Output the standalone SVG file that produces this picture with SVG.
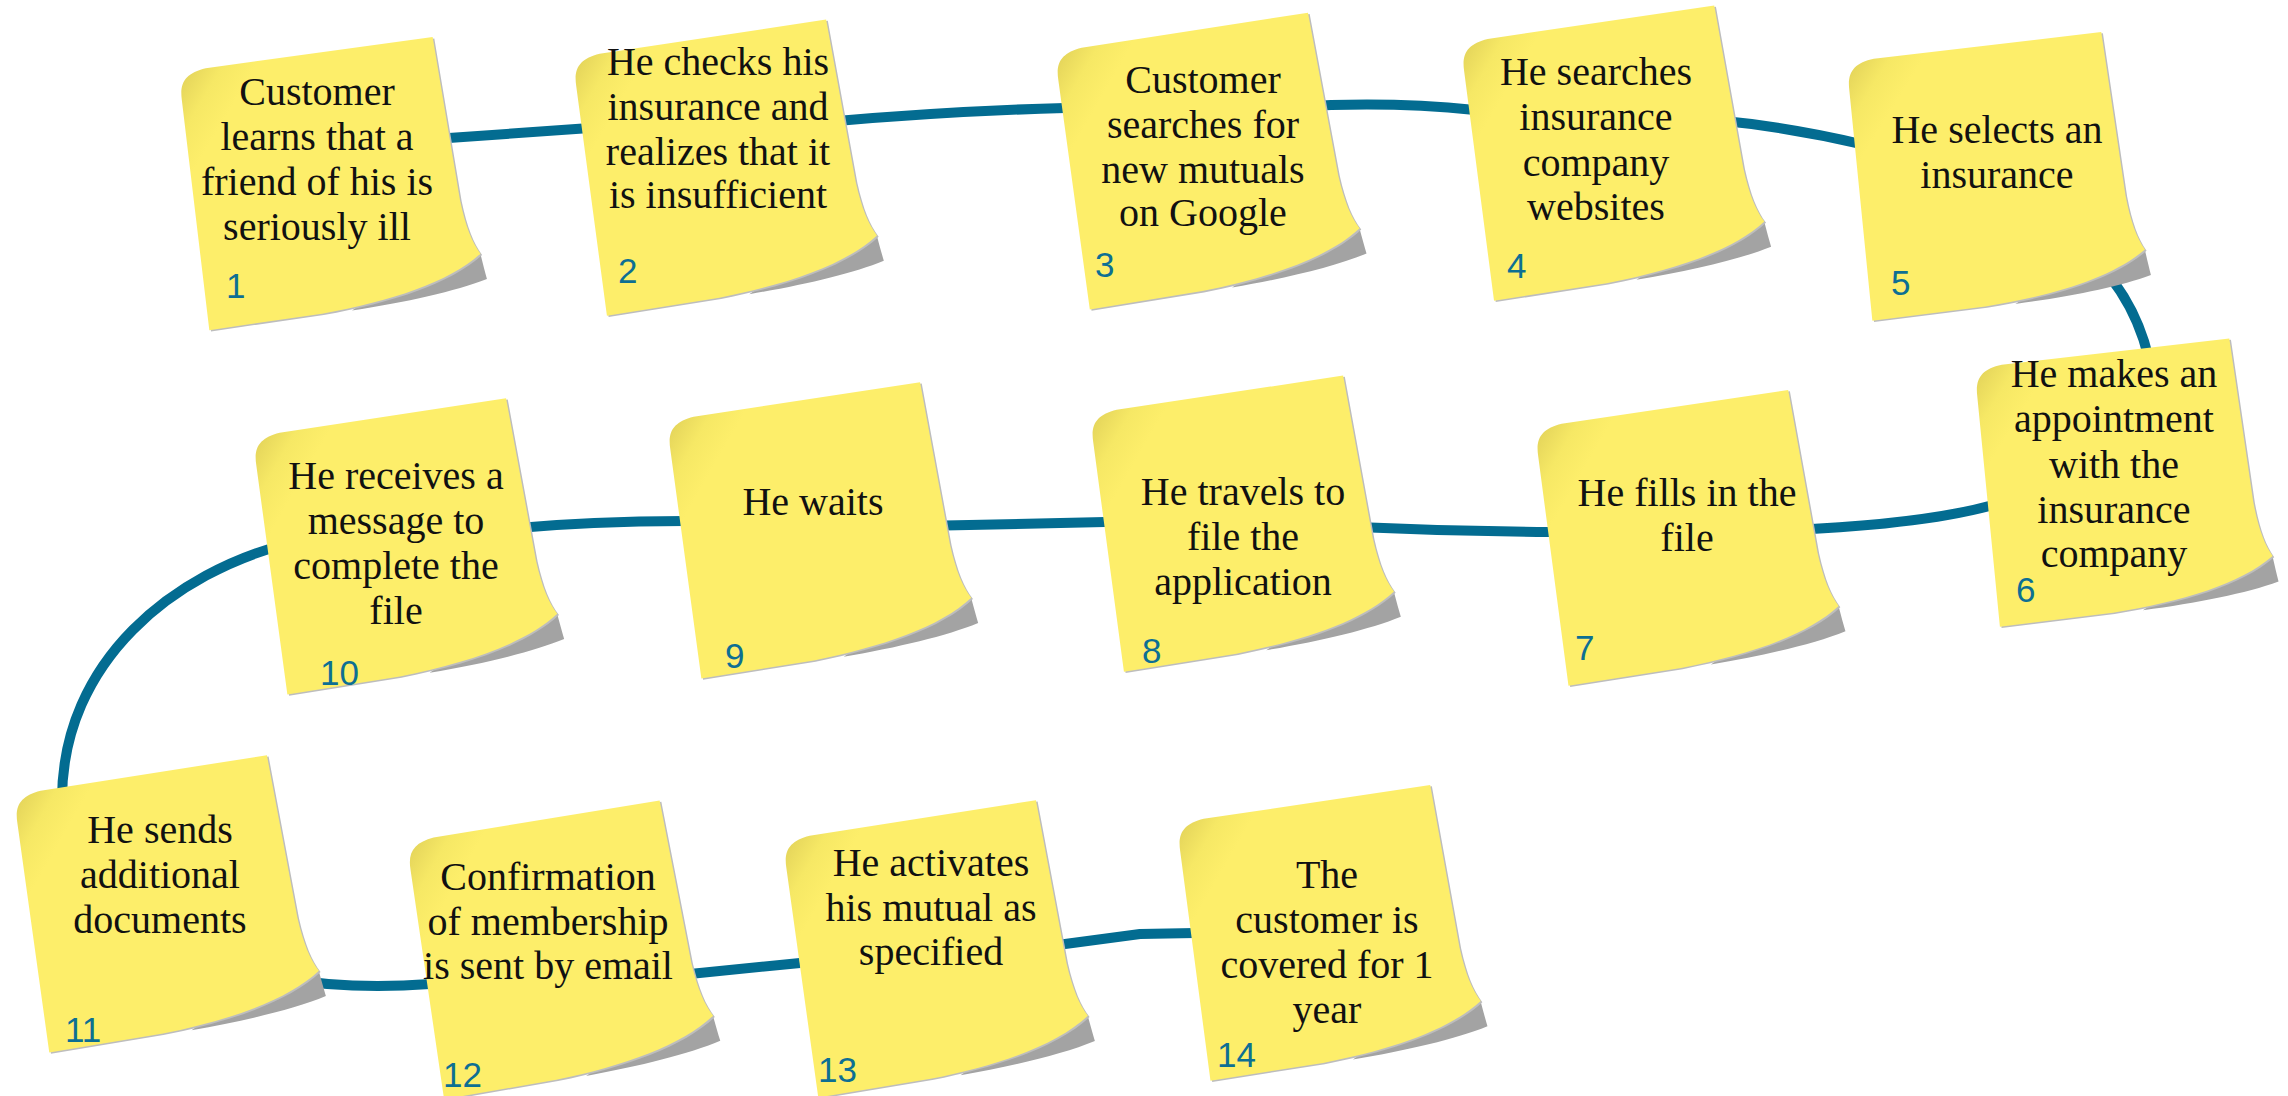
<svg xmlns="http://www.w3.org/2000/svg" xmlns:xlink="http://www.w3.org/1999/xlink" width="2288" height="1096" viewBox="0 0 2288 1096">
  <style>
    .sheet { fill: url(#paper); }
    .edge { fill: #bdbdbd; }
    .curl { fill: #a3a3a3; }
    .txt { font-family: "Liberation Serif", "Times New Roman", serif; font-size: 40px; fill: #111; text-anchor: middle; }
    .num { font-family: "Liberation Sans", Arial, sans-serif; font-size: 35px; fill: #0d6f93; }
    .link { fill: none; stroke: #036c91; stroke-width: 10; stroke-linejoin: round; }
  </style>
  <defs>
    <linearGradient id="paper" gradientUnits="userSpaceOnUse" x1="0" y1="0" x2="50" y2="40">
      <stop offset="0" stop-color="#e0d058"/>
      <stop offset="0.55" stop-color="#f6e865"/>
      <stop offset="1" stop-color="#fdee6a"/>
    </linearGradient>
    <!-- sticky note drawn in its own frame: top-left corner at 0,0 -->
    <g id="note-shape">
      <path class="curl" d="M 262,200 L 275,222 C 276,231 277,240 278,247 C 245,255 195,259 140,260 Z"/>
      <path class="edge" transform="translate(1.5,1.5)" d="M 0,28 C 0,10 8,2 28,0 L 257,0 L 262,165 C 264,192 268,208 275,221 C 240,245 180,256 110,259 L -4,260 Z"/>
      <path class="sheet" d="M 0,28 C 0,10 8,2 28,0 L 257,0 L 262,165 C 264,192 268,208 275,221 C 240,245 180,256 110,259 L -4,260 Z"/>
    </g>
  </defs>

  <rect width="2288" height="1096" fill="#ffffff"/>

  <g id="connectors">
    <path class="link" d="M 420,140 L 590,128"/>
    <path class="link" d="M 825,122 Q 950,111 1065,108"/>
    <path class="link" d="M 1295,107 Q 1385,101 1475,110"/>
    <path class="link" d="M 1715,120 Q 1790,127 1865,145"/>
    <path class="link" d="M 2085,250 Q 2140,300 2152,375"/>
    <path class="link" d="M 2000,503 Q 1930,524 1790,530"/>
    <path class="link" d="M 1330,526 Q 1440,531 1550,532"/>
    <path class="link" d="M 920,526 L 1105,522"/>
    <path class="link" d="M 505,529 Q 590,521 685,521"/>
    <path class="link" d="M 290,543 C 175,572 62,660 62,800"/>
    <path class="link" d="M 280,978 Q 350,990 430,984"/>
    <path class="link" d="M 670,976 L 800,963"/>
    <path class="link" d="M 1035,948 L 1140,934 L 1195,933"/>
  </g>

  <g id="note-1">
    <use xlink:href="#note-shape" href="#note-shape" transform="translate(178,72) rotate(-7.8)"/>
    <text class="txt"><tspan x="317" y="105">Customer</tspan><tspan x="317" y="150">learns that a</tspan><tspan x="317" y="195">friend of his is</tspan><tspan x="317" y="240">seriously ill</tspan></text>
    <text class="num" x="226" y="298">1</text>
  </g>

  <g id="note-2">
    <use xlink:href="#note-shape" href="#note-shape" transform="translate(572,58) rotate(-8.6)"/>
    <text class="txt"><tspan x="718" y="75">He checks his</tspan><tspan x="718" y="120">insurance and</tspan><tspan x="718" y="165">realizes that it</tspan><tspan x="718" y="208">is insufficient</tspan></text>
    <text class="num" x="618" y="283">2</text>
  </g>

  <g id="note-3">
    <use xlink:href="#note-shape" href="#note-shape" transform="translate(1054,52) rotate(-8.8)"/>
    <text class="txt"><tspan x="1203" y="93">Customer</tspan><tspan x="1203" y="138">searches for</tspan><tspan x="1203" y="183">new mutuals</tspan><tspan x="1203" y="226">on Google</tspan></text>
    <text class="num" x="1095" y="277">3</text>
  </g>

  <g id="note-4">
    <use xlink:href="#note-shape" href="#note-shape" transform="translate(1460,43) rotate(-8.4)"/>
    <text class="txt"><tspan x="1596" y="85">He searches</tspan><tspan x="1596" y="130">insurance</tspan><tspan x="1596" y="176">company</tspan><tspan x="1596" y="220">websites</tspan></text>
    <text class="num" x="1507" y="278">4</text>
  </g>

  <g id="note-5">
    <use xlink:href="#note-shape" href="#note-shape" transform="translate(1846,62) rotate(-6.7)"/>
    <text class="txt"><tspan x="1997" y="143">He selects an</tspan><tspan x="1997" y="188">insurance</tspan></text>
    <text class="num" x="1891" y="295">5</text>
  </g>

  <g id="note-6">
    <use xlink:href="#note-shape" href="#note-shape" transform="translate(1974,368) rotate(-6.6)"/>
    <text class="txt"><tspan x="2114" y="387">He makes an</tspan><tspan x="2114" y="432">appointment</tspan><tspan x="2114" y="478">with the</tspan><tspan x="2114" y="523">insurance</tspan><tspan x="2114" y="567">company</tspan></text>
    <text class="num" x="2016" y="602">6</text>
  </g>

  <g id="note-7">
    <use xlink:href="#note-shape" href="#note-shape" transform="translate(1534,428) rotate(-8.5)"/>
    <text class="txt"><tspan x="1687" y="506">He fills in the</tspan><tspan x="1687" y="551">file</tspan></text>
    <text class="num" x="1575" y="660">7</text>
  </g>

  <g id="note-8">
    <use xlink:href="#note-shape" href="#note-shape" transform="translate(1089,414) rotate(-8.6)"/>
    <text class="txt"><tspan x="1243" y="505">He travels to</tspan><tspan x="1243" y="550">file the</tspan><tspan x="1243" y="595">application</tspan></text>
    <text class="num" x="1142" y="663">8</text>
  </g>

  <g id="note-9">
    <use xlink:href="#note-shape" href="#note-shape" transform="translate(666,421) rotate(-8.7)"/>
    <text class="txt"><tspan x="813" y="515">He waits</tspan></text>
    <text class="num" x="725" y="668">9</text>
  </g>

  <g id="note-10">
    <use xlink:href="#note-shape" href="#note-shape" transform="translate(252,437) rotate(-8.7)"/>
    <text class="txt"><tspan x="396" y="489">He receives a</tspan><tspan x="396" y="534">message to</tspan><tspan x="396" y="579">complete the</tspan><tspan x="396" y="624">file</tspan></text>
    <text class="num" x="320" y="685">10</text>
  </g>

  <g id="note-11">
    <use xlink:href="#note-shape" href="#note-shape" transform="translate(13,795) rotate(-8.9)"/>
    <text class="txt"><tspan x="160" y="843">He sends</tspan><tspan x="160" y="888">additional</tspan><tspan x="160" y="933">documents</tspan></text>
    <text class="num" x="65" y="1042">11</text>
  </g>

  <g id="note-12">
    <use xlink:href="#note-shape" href="#note-shape" transform="translate(406,842) rotate(-9.3)"/>
    <text class="txt"><tspan x="548" y="890">Confirmation</tspan><tspan x="548" y="935">of membership</tspan><tspan x="548" y="979">is sent by email</tspan></text>
    <text class="num" x="443" y="1087">12</text>
  </g>

  <g id="note-13">
    <use xlink:href="#note-shape" href="#note-shape" transform="translate(782,840) rotate(-8.9)"/>
    <text class="txt"><tspan x="931" y="876">He activates</tspan><tspan x="931" y="921">his mutual as</tspan><tspan x="931" y="965">specified</tspan></text>
    <text class="num" x="818" y="1082">13</text>
  </g>

  <g id="note-14">
    <use xlink:href="#note-shape" href="#note-shape" transform="translate(1176,823) rotate(-8.5)"/>
    <text class="txt"><tspan x="1327" y="888">The</tspan><tspan x="1327" y="933">customer is</tspan><tspan x="1327" y="978">covered for 1</tspan><tspan x="1327" y="1023">year</tspan></text>
    <text class="num" x="1217" y="1067">14</text>
  </g>
</svg>
